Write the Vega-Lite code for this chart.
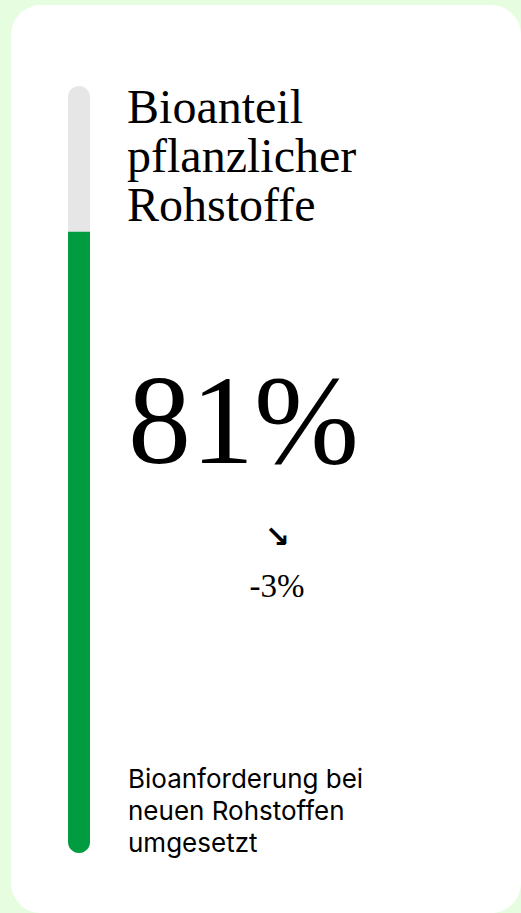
{
  "$schema": "https://vega.github.io/schema/vega-lite/v6.json",
  "width": 521,
  "height": 913,
  "autosize": {"type": "fit", "contains": "padding"},
  "padding": {"left": 11, "top": 5, "right": 0, "bottom": 0},
  "background": "#e6fde0",
  "view": {"fill": "#ffffff", "cornerRadius": 30, "stroke": null},
  "data": {
    "values": [
      {
        "indicator": "Bioanteil\npflanzlicher\nRohstoffe",
        "share": 0.81,
        "change": -0.03,
        "trend": "↘",
        "note": "Bioanforderung bei\nneuen Rohstoffen\numgesetzt"
      }
    ]
  },
  "layer": [
    {
      "mark": {"type": "rect", "color": "#e6e6e6", "cornerRadius": 11},
      "encoding": {
        "x": {"datum": 0.1118, "type": "quantitative", "scale": {"domain": [0, 1]}, "axis": null},
        "x2": {"datum": 0.1549},
        "y": {"datum": 0, "type": "quantitative", "scale": {"domain": [-0.07823, 1.1056]}, "axis": null},
        "y2": {"datum": 1}
      }
    },
    {
      "mark": {"type": "rect", "color": "#009c3f", "cornerRadiusBottomLeft": 11, "cornerRadiusBottomRight": 11},
      "encoding": {
        "x": {"datum": 0.1118, "type": "quantitative", "scale": {"domain": [0, 1]}, "axis": null},
        "x2": {"datum": 0.1549},
        "y": {"field": "share", "type": "quantitative", "scale": {"domain": [-0.07823, 1.1056]}, "axis": null},
        "y2": {"datum": 0}
      }
    },
    {
      "mark": {"type": "text", "align": "left", "baseline": "alphabetic", "font": "Liberation Serif", "fontSize": 48, "lineHeight": 49, "lineBreak": "\n", "color": "#000000"},
      "encoding": {
        "x": {"datum": 0.2275, "type": "quantitative", "scale": {"domain": [0, 1]}, "axis": null},
        "y": {"datum": 0.9514, "type": "quantitative", "scale": {"domain": [-0.07823, 1.1056]}, "axis": null},
        "text": {"field": "indicator"}
      }
    },
    {
      "mark": {"type": "text", "align": "left", "baseline": "alphabetic", "font": "Liberation Serif", "fontSize": 126, "color": "#000000"},
      "encoding": {
        "x": {"datum": 0.2294, "type": "quantitative", "scale": {"domain": [0, 1]}, "axis": null},
        "y": {"datum": 0.5085, "type": "quantitative", "scale": {"domain": [-0.07823, 1.1056]}, "axis": null},
        "text": {"field": "share", "type": "quantitative", "format": ".0%"}
      }
    },
    {
      "mark": {"type": "text", "align": "center", "baseline": "middle", "font": "DejaVu Sans", "fontSize": 30, "fontWeight": "bold", "color": "#000000"},
      "encoding": {
        "x": {"datum": 0.5216, "type": "quantitative", "scale": {"domain": [0, 1]}, "axis": null},
        "y": {"datum": 0.4107, "type": "quantitative", "scale": {"domain": [-0.07823, 1.1056]}, "axis": null},
        "text": {"field": "trend"}
      }
    },
    {
      "mark": {"type": "text", "align": "center", "baseline": "alphabetic", "font": "Liberation Serif", "fontSize": 33, "color": "#000000"},
      "encoding": {
        "x": {"datum": 0.5216, "type": "quantitative", "scale": {"domain": [0, 1]}, "axis": null},
        "y": {"datum": 0.3338, "type": "quantitative", "scale": {"domain": [-0.07823, 1.1056]}, "axis": null},
        "text": {"field": "change", "type": "quantitative", "format": ".0%"}
      }
    },
    {
      "mark": {"type": "text", "align": "left", "baseline": "alphabetic", "font": "Inter", "fontSize": 26, "lineHeight": 32, "lineBreak": "\n", "color": "#000000"},
      "encoding": {
        "x": {"datum": 0.2294, "type": "quantitative", "scale": {"domain": [0, 1]}, "axis": null},
        "y": {"datum": 0.0847, "type": "quantitative", "scale": {"domain": [-0.07823, 1.1056]}, "axis": null},
        "text": {"field": "note"}
      }
    }
  ],
  "config": {
    "locale": {"number": {"decimal": ".", "thousands": ",", "grouping": [3], "currency": ["$", ""], "minus": "-"}}
  }
}
